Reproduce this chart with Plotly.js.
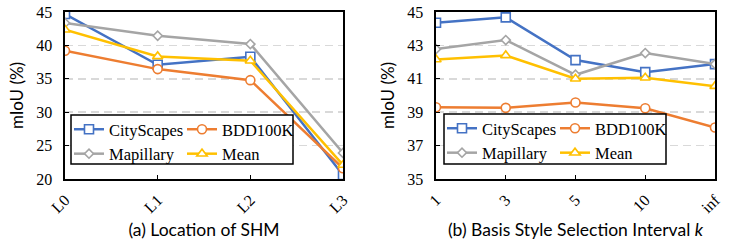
<!DOCTYPE html>
<html><head><meta charset="utf-8">
<script src="https://cdn.plot.ly/plotly-3.0.1.min.js"></script>
<style>html,body{margin:0;padding:0;background:#fff}</style></head>
<body><div id="chart" style="width:747px;height:249px"></div>
<script>
// ---- data ----
const seriesNames = ['CityScapes', 'BDD100K', 'Mapillary', 'Mean'];
const locCategories = ['L0', 'L1', 'L2', 'L3'];
const locCity = [44.7, 37.1, 38.3, 20.6];
const locBdd = [39.2, 36.45, 34.8, 21.6];
const locMap = [43.35, 41.45, 40.2, 23.9];
const locMean = [42.35, 38.35, 37.7, 22.1];
const kCategories = ['1', '3', '5', '10', 'inf'];
const kCity = [44.36, 44.68, 42.12, 41.4, 41.88];
const kBdd = [39.3, 39.26, 39.58, 39.24, 38.08];
const kMap = [42.78, 43.32, 41.24, 42.54, 41.88];
const kMean = [42.16, 42.4, 41.0, 41.06, 40.56];
const leftTicks = [20, 25, 30, 35, 40, 45];
const rightTicks = [35, 37, 39, 41, 43, 45];

// ---- styles ----
const colors = ['#4472C4', '#ED7D31', '#A5A5A5', '#FFC000'];
const symbols = ['square', 'circle', 'diamond', 'triangle-up'];
const sizes = [9, 9, 7, 9];
const serif = 'Liberation Serif, Times New Roman, serif';
const sans = 'Lato, Open Sans, sans-serif';
const W = 747, H = 249;
const px = v => v / W, py = v => 1 - v / H;

function mk(x, y, i, xa, ya, leg) {
  return {
    x: x, y: y, name: seriesNames[i], type: 'scatter', mode: 'lines+markers',
    xaxis: xa, yaxis: ya, legend: leg, showlegend: true,
    line: {color: colors[i], width: 2.5},
    marker: {symbol: symbols[i], size: sizes[i], color: '#ffffff', line: {color: colors[i], width: 1.6}}
  };
}
const leftLeg = ['legend', 'legend2', 'legend', 'legend2'];
const rightLeg = ['legend3', 'legend4', 'legend3', 'legend4'];
const locSeries = [locCity, locBdd, locMap, locMean];
const kSeries = [kCity, kBdd, kMap, kMean];
const traces = [];
locSeries.forEach((s, i) => traces.push(mk(locCategories, s, i, 'x', 'y', leftLeg[i])));
kSeries.forEach((s, i) => traces.push(mk(kCategories, s, i, 'x2', 'y2', rightLeg[i])));

function xax(dom, n, anchor) {
  return {
    domain: dom, anchor: anchor, type: 'category', range: [0, n - 1],
    showline: true, mirror: true, linecolor: '#000', linewidth: 1.6,
    ticks: 'inside', ticklen: 4, tickwidth: 1.3, tickcolor: '#000',
    tickangle: -45, tickfont: {family: serif, size: 16, color: '#000'},
    showgrid: false, zeroline: false, automargin: false, ticklabelstandoff: 4
  };
}
function yax(dom, range, tv, anchor) {
  return {
    domain: dom, anchor: anchor, range: range, tickvals: tv, ticktext: tv.map(String),
    showline: true, mirror: true, linecolor: '#000', linewidth: 1.6,
    ticks: 'inside', ticklen: 4, tickwidth: 1.3, tickcolor: '#000',
    tickfont: {family: serif, size: 16, color: '#000'},
    showgrid: true, gridcolor: '#D9D9D9', gridwidth: 1.5, griddash: '8px,5px',
    zeroline: false, automargin: false, ticklabelstandoff: 8,
    title: {text: 'mIoU (%)', font: {family: sans, size: 17, color: '#000'}, standoff: 8}
  };
}
const yDom = [py(179), py(12)];
const layout = {
  width: W, height: H, margin: {l: 0, r: 0, t: 0, b: 0},
  paper_bgcolor: '#fff', plot_bgcolor: '#fff', showlegend: true,
  xaxis: Object.assign(xax([px(65), px(343)], 4, 'y'), {title: {text: '(a) Location of SHM', font: {family: sans, size: 17.5, color: '#000'}, standoff: 8}}),
  yaxis: yax(yDom, [20, 45], leftTicks, 'x'),
  xaxis2: Object.assign(xax([px(436), px(715)], 5, 'y2'), {title: {text: '(b) Basis Style Selection Interval <i>k</i>', font: {family: sans, size: 17.5, color: '#000'}, standoff: 8}}),
  yaxis2: yax(yDom, [35, 45], rightTicks, 'x2'),
  shapes: [
    {type: 'rect', xref: 'paper', yref: 'paper', x0: px(71), x1: px(293), y0: py(164), y1: py(115), line: {color: '#000', width: 1.5}, fillcolor: '#fff', layer: 'above'},
    {type: 'rect', xref: 'paper', yref: 'paper', x0: px(444), x1: px(666), y0: py(164), y1: py(114), line: {color: '#000', width: 1.5}, fillcolor: '#fff', layer: 'above'}
  ]
};
const legBase = {orientation: 'v', bgcolor: 'rgba(0,0,0,0)', borderwidth: 0, xanchor: 'left', yanchor: 'top',
  font: {family: serif, size: 16.5, color: '#000'}, itemwidth: 30, tracegroupgap: 0};
layout.legend = Object.assign({}, legBase, {x: px(69), y: py(112)});
layout.legend2 = Object.assign({}, legBase, {x: px(182), y: py(112)});
layout.legend3 = Object.assign({}, legBase, {x: px(442), y: py(111)});
layout.legend4 = Object.assign({}, legBase, {x: px(555), y: py(111)});

Plotly.newPlot('chart', traces, layout, {staticPlot: true, displayModeBar: false});
</script></body></html>
